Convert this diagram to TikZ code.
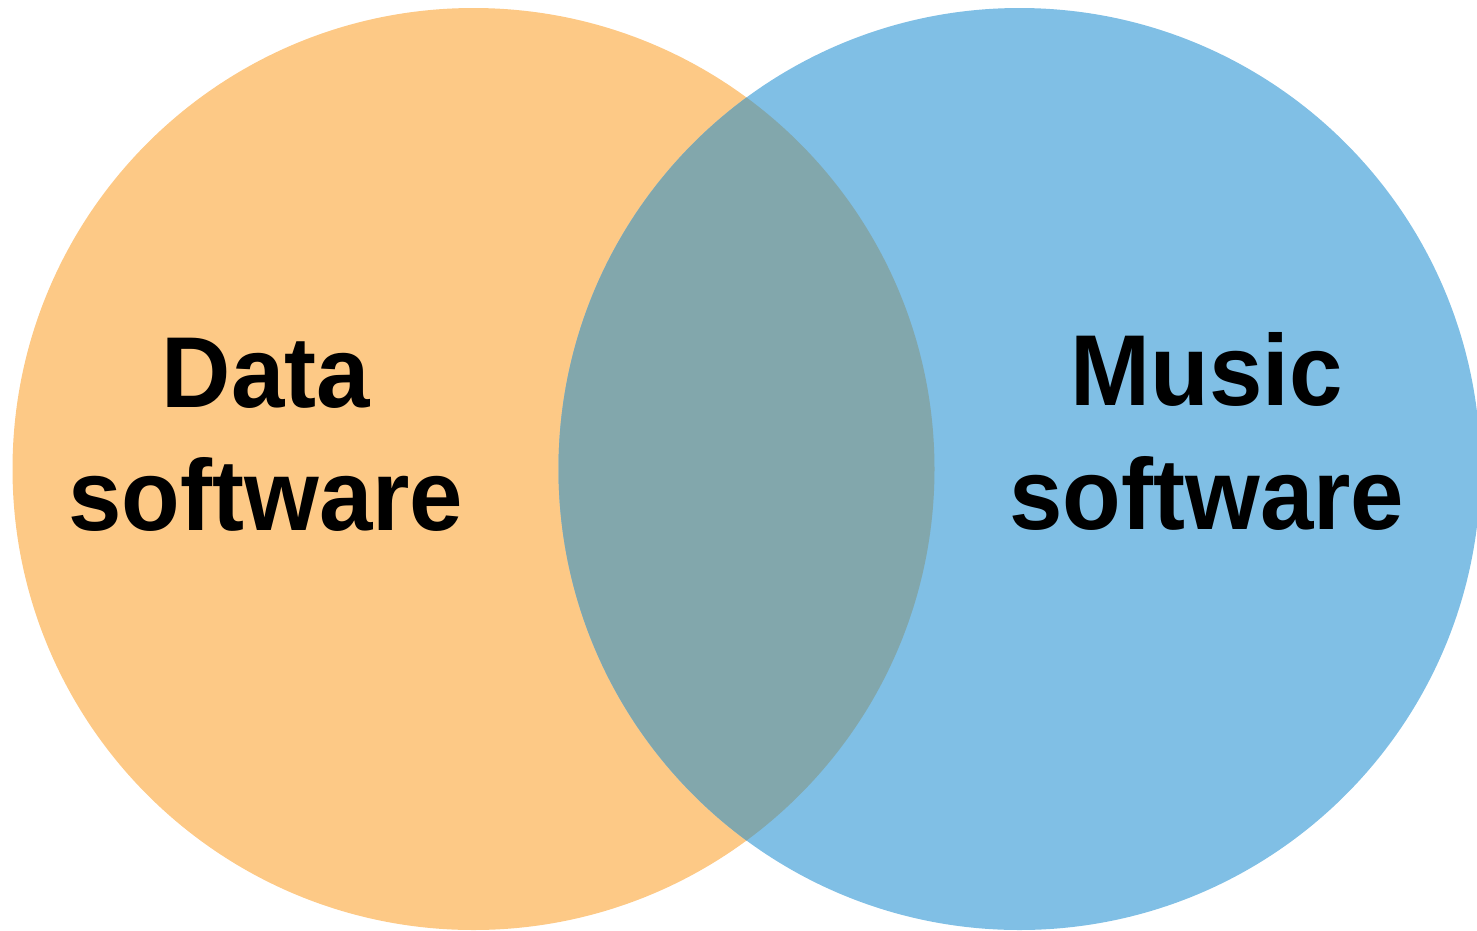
\documentclass[tikz,border=0pt]{standalone}
\usepackage{fontspec}
\setmainfont{Liberation Sans}
\definecolor{setA}{RGB}{253,201,134}
\definecolor{setB}{RGB}{128,191,229}
\definecolor{setAB}{RGB}{130,167,172}
\newcommand{\tallword}[1]{\scalebox{1}[1.05]{#1}}
\tikzset{
  label text/.style={font=\fontsize{96}{122}\selectfont\bfseries, align=center, inner sep=0pt, text=black}
}
\begin{document}
\begin{tikzpicture}[x=1pt,y=-1pt]
  \useasboundingbox (0,0) rectangle (1477,930);
  \begin{scope}
    \clip (0,0) rectangle (1477,930);
    % the two sets
    \fill[setA] (473.5,469) circle[radius=461];
    \fill[setB] (1019.5,469) circle[radius=461];
    % their intersection
    \begin{scope}
      \clip (473.5,469) circle[radius=461];
      \fill[setAB] (1019.5,469) circle[radius=461];
    \end{scope}
  \end{scope}
  % labels
  \node[label text, anchor=base] (data) at (266,407) {\tallword{Data}};
  \node[label text, anchor=base] (datasw) at (266,530) {\tallword{software}};
  \node[label text, anchor=base] (music) at (1207,405) {\tallword{Music}};
  \node[label text, anchor=base] (musicsw) at (1207,529) {\tallword{software}};
\end{tikzpicture}
\end{document}
